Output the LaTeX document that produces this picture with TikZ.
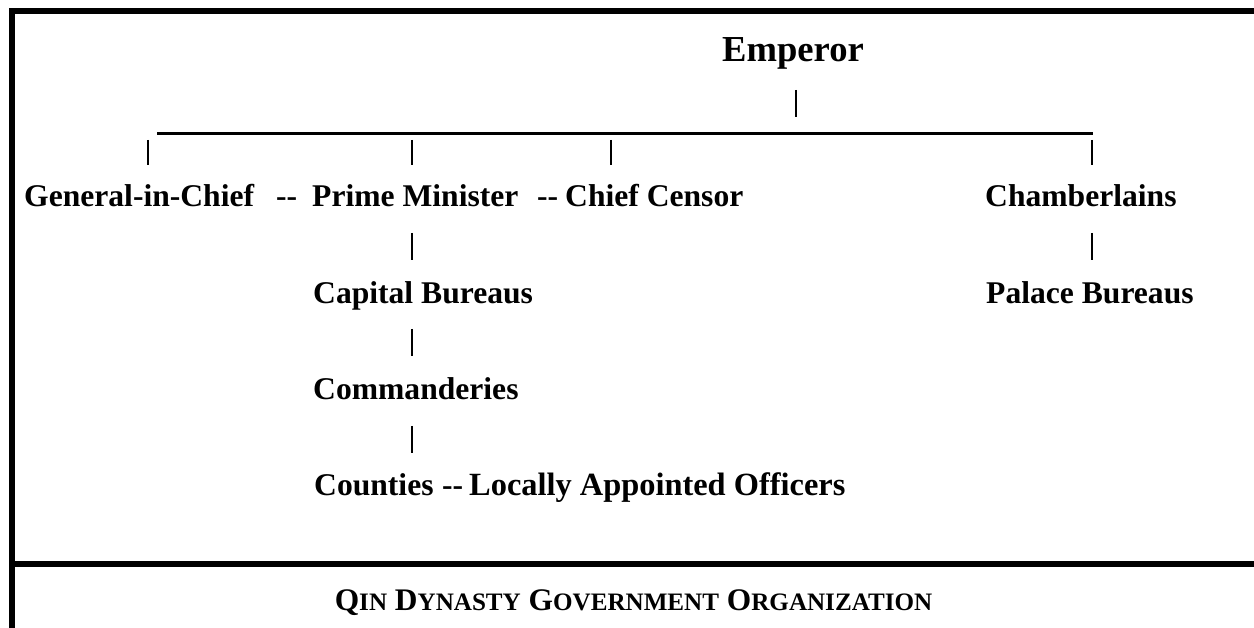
\documentclass[tikz,border=0pt]{standalone}
\usepackage{fontspec}
\newfontfamily\tms{Liberation Serif}
\newcommand\qsc[2]{{\fontsize{31.4}{36}\selectfont #1}{\fontsize{25.1}{30}\selectfont #2}}
\begin{document}
\begin{tikzpicture}[x=1pt,y=-1pt,
  frame/.style={line width=6pt},
  lbl/.style={anchor=base west, inner sep=0pt, font=\tms\bfseries\fontsize{31.6}{36}\selectfont},
  bar/.style={line width=1.6pt},
  hline/.style={line width=2.6pt}]
\useasboundingbox (0,0) rectangle (1254,628);
% frame
\draw[frame] (11.5,628) -- (11.5,11) -- (1254,11);
\draw[frame] (11.5,564) -- (1254,564);
% nodes
\node[lbl, font=\tms\bfseries\fontsize{36.6}{42}\selectfont] (emp) at (722,62) {Emperor};
\node[lbl] (gen) at (24,207) {General-in-Chief};
\node[lbl] (d1) at (276,207) {-\kern0pt-};
\node[lbl] (pm) at (312,207) {Prime Minister};
\node[lbl] (d2) at (537,207) {-\kern0pt-};
\node[lbl] (cc) at (565,207) {Chief Censor};
\node[lbl] (ch) at (985,207) {Chamberlains};
\node[lbl] (cb) at (313,304) {Capital Bureaus};
\node[lbl] (pb) at (986,304) {Palace Bureaus};
\node[lbl] (cm) at (313,400) {Commanderies};
\node[lbl] (co) at (314,495) {Counties};
\node[lbl] (d3) at (442,495) {-\kern0pt-};
\node[lbl, font=\tms\bfseries\fontsize{32.4}{36}\selectfont] (lo) at (469,495) {Locally Appointed Officers};
\node[anchor=base, inner sep=0pt, font=\tms\bfseries\fontsize{31.4}{36}\selectfont] (title) at (633.5,610)
  {\qsc{Q}{IN} \qsc{D}{YNASTY} \qsc{G}{OVERNMENT} \qsc{O}{RGANIZATION}};
% connector coordinates
\coordinate (e1) at (796,90);  \coordinate (e2) at (796,117);
\coordinate (hl) at (157,133.5); \coordinate (hr) at (1093,133.5);
\coordinate (g1) at (148,140); \coordinate (g2) at (148,165);
\coordinate (p1) at (412,140); \coordinate (p2) at (412,165);
\coordinate (c1) at (611,140); \coordinate (c2) at (611,165);
\coordinate (h1) at (1092,140); \coordinate (h2) at (1092,165);
\coordinate (pm1) at (412,233); \coordinate (pm2) at (412,260);
\coordinate (cb1) at (412,329); \coordinate (cb2) at (412,356);
\coordinate (cm1) at (412,426); \coordinate (cm2) at (412,453);
\coordinate (ch1) at (1092,233); \coordinate (ch2) at (1092,260);
% connectors
\draw[bar] (e1) -- (e2);
\draw[hline] (hl) -- (hr);
\draw[bar] (g1) -- (g2);
\draw[bar] (p1) -- (p2);
\draw[bar] (c1) -- (c2);
\draw[bar] (h1) -- (h2);
\draw[bar] (pm1) -- (pm2);
\draw[bar] (cb1) -- (cb2);
\draw[bar] (cm1) -- (cm2);
\draw[bar] (ch1) -- (ch2);
\end{tikzpicture}
\end{document}
